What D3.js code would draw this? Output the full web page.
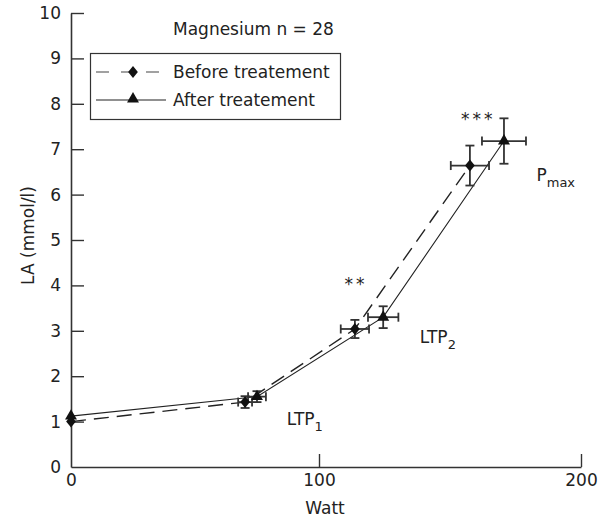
<!DOCTYPE html>
<html>
<head>
<meta charset="utf-8">
<script src="https://cdn.jsdelivr.net/npm/d3@7"></script>
<style>
  body { margin: 0; background: #fff; }
  text { font-family: "DejaVu Sans", Verdana, sans-serif; fill: #222; }
</style>
</head>
<body>
<svg id="chart" width="607" height="521"></svg>
<script>
// values
let wattTicks = [0, 100, 200]
let laTicks = [0, 1, 2, 3, 4, 5, 6, 7, 8, 9, 10]

let beforeWatt = [0, 70.2, 113.7, 157.6]
let beforeLA = [1.0, 1.43, 3.04, 6.64]
let beforeWattErr = [0, 2.8, 5.4, 7.3]
let beforeLAErr = [0, 0.13, 0.2, 0.44]

let afterWatt = [0, 75, 124.5, 170.6]
let afterLA = [1.12, 1.55, 3.3, 7.18]
let afterWattErr = [0, 3.6, 5.8, 8.4]
let afterLAErr = [0, 0.12, 0.24, 0.5]

let width = 607
let height = 521

let svg = d3.select("#chart")

// the printed axis is not quite even, so match the tick spacing
let x = d3.scaleLinear()
    .domain([0, 100, 200])
    .range([71, 319, 581])

let y = d3.scaleLinear()
    .domain([0, 10])
    .range([467, 13])

let axisColor = "#333"
let fontSize = "17px"

// axes, ticks pointing inwards
let xAxis = svg.append("g")
    .attr("transform", `translate(0,${y(0)})`)
    .call(d3.axisBottom(x).tickValues(wattTicks).tickSizeInner(-13).tickSizeOuter(0).tickPadding(7))
xAxis.select(".domain").attr("stroke", axisColor).attr("stroke-width", 1.6)
xAxis.selectAll(".tick line").attr("stroke", axisColor).attr("stroke-width", 1.4)
xAxis.selectAll(".tick text").style("font-size", fontSize).attr("fill", "#222")

let yAxis = svg.append("g")
    .attr("transform", `translate(${x(0)},0)`)
    .call(d3.axisLeft(y).tickValues(laTicks).tickSizeInner(-13).tickSizeOuter(0).tickPadding(10))
yAxis.select(".domain").attr("stroke", axisColor).attr("stroke-width", 1.6)
yAxis.selectAll(".tick line").attr("stroke", axisColor).attr("stroke-width", 1.4)
yAxis.selectAll(".tick text").style("font-size", fontSize).attr("fill", "#222")
// the 0 tick lies on the x axis
yAxis.selectAll(".tick").filter(d => d == 0).select("line").remove()
xAxis.selectAll(".tick").filter(d => d == 0).select("line").remove()

// axis titles
svg.append("text")
    .attr("x", x(100) + 6)
    .attr("y", 514)
    .attr("text-anchor", "middle")
    .style("font-size", fontSize)
    .text("Watt")

svg.append("text")
    .attr("transform", `translate(34,${y(5.1)}) rotate(-90)`)
    .attr("text-anchor", "middle")
    .style("font-size", fontSize)
    .text("LA (mmol/l)")

let before = beforeWatt.map((w, i) => ({ w: w, la: beforeLA[i], we: beforeWattErr[i], lae: beforeLAErr[i] }))
let after = afterWatt.map((w, i) => ({ w: w, la: afterLA[i], we: afterWattErr[i], lae: afterLAErr[i] }))

let line = d3.line()
    .x(d => x(d.w))
    .y(d => y(d.la))

svg.append("path")
    .attr("d", line(before))
    .style("fill", "none")
    .style("stroke", "#222")
    .style("stroke-width", 1.4)
    .style("stroke-dasharray", "15,8")

svg.append("path")
    .attr("d", line(after))
    .style("fill", "none")
    .style("stroke", "#222")
    .style("stroke-width", 1.1)

// error bars with caps
function errorBars(data) {
    let g = svg.append("g")
        .attr("stroke", "#333")
        .attr("stroke-width", 1.8)
    let cap = 4.5
    data.filter(d => d.we > 0 || d.lae > 0).forEach(function (d) {
        let cx = x(d.w), cy = y(d.la)
        let x1 = x(d.w - d.we), x2 = x(d.w + d.we)
        let y1 = y(d.la - d.lae), y2 = y(d.la + d.lae)
        g.append("line").attr("x1", x1).attr("x2", x2).attr("y1", cy).attr("y2", cy)
        g.append("line").attr("x1", x1).attr("x2", x1).attr("y1", cy - cap).attr("y2", cy + cap)
        g.append("line").attr("x1", x2).attr("x2", x2).attr("y1", cy - cap).attr("y2", cy + cap)
        g.append("line").attr("x1", cx).attr("x2", cx).attr("y1", y1).attr("y2", y2)
        g.append("line").attr("x1", cx - cap).attr("x2", cx + cap).attr("y1", y1).attr("y2", y1)
        g.append("line").attr("x1", cx - cap).attr("x2", cx + cap).attr("y1", y2).attr("y2", y2)
    })
}
errorBars(before)
errorBars(after)

let diamond = d3.symbol().type(d3.symbolSquare).size(58)
let triangle = d3.symbol().type(d3.symbolTriangle).size(62)

svg.selectAll(".diamond")
    .data(before)
    .join("path")
    .attr("class", "diamond")
    .attr("d", diamond)
    .attr("transform", d => `translate(${x(d.w)},${y(d.la)}) scale(0.9,1.1) rotate(45)`)
    .attr("fill", "#111")

svg.selectAll(".triangle")
    .data(after)
    .join("path")
    .attr("class", "triangle")
    .attr("d", triangle)
    .attr("transform", d => `translate(${x(d.w)},${y(d.la)})`)
    .attr("fill", "#111")

// annotations
svg.append("text")
    .attr("x", 173)
    .attr("y", 35)
    .style("font-size", fontSize)
    .text("Magnesium n = 28")

function stars(text, w, la) {
    svg.append("text")
        .attr("x", x(w) + 2)
        .attr("y", y(la))
        .attr("dy", "0.62em")
        .attr("text-anchor", "middle")
        .style("font-size", "17px")
        .style("letter-spacing", "3px")
        .text(text)
}
stars("**", 113.4, 4.13)
stars("***", 160, 7.77)

function label(main, sub, w, la) {
    let t = svg.append("text")
        .attr("x", x(w))
        .attr("y", y(la))
        .style("font-size", fontSize)
    t.append("tspan").text(main)
    t.append("tspan").attr("dy", 6).style("font-size", "13px").text(sub)
}
label("LTP", "1", 87, 0.93)
label("LTP", "2", 138.5, 2.74)
label("P", "max", 183, 6.29)

// legend
let legend = svg.append("g")
legend.append("rect")
    .attr("x", 90.5).attr("y", 53.5)
    .attr("width", 250).attr("height", 66)
    .attr("fill", "#fff")
    .attr("stroke", "#333")
    .attr("stroke-width", 1.2)

legend.append("line")
    .attr("x1", 96).attr("x2", 170).attr("y1", 72).attr("y2", 72)
    .style("stroke", "#444").style("stroke-width", 1.2).style("stroke-dasharray", "13,12")
legend.append("path")
    .attr("d", diamond)
    .attr("transform", "translate(133,72) scale(0.9,1.1) rotate(45)")
    .attr("fill", "#111")
legend.append("text").attr("x", 173).attr("y", 78).style("font-size", fontSize).text("Before treatement")

legend.append("line")
    .attr("x1", 96).attr("x2", 166).attr("y1", 100).attr("y2", 100)
    .style("stroke", "#222").style("stroke-width", 1.1)
legend.append("path")
    .attr("d", triangle)
    .attr("transform", "translate(133,99)")
    .attr("fill", "#111")
legend.append("text").attr("x", 173).attr("y", 106).style("font-size", fontSize).text("After treatement")
</script>
</body>
</html>
